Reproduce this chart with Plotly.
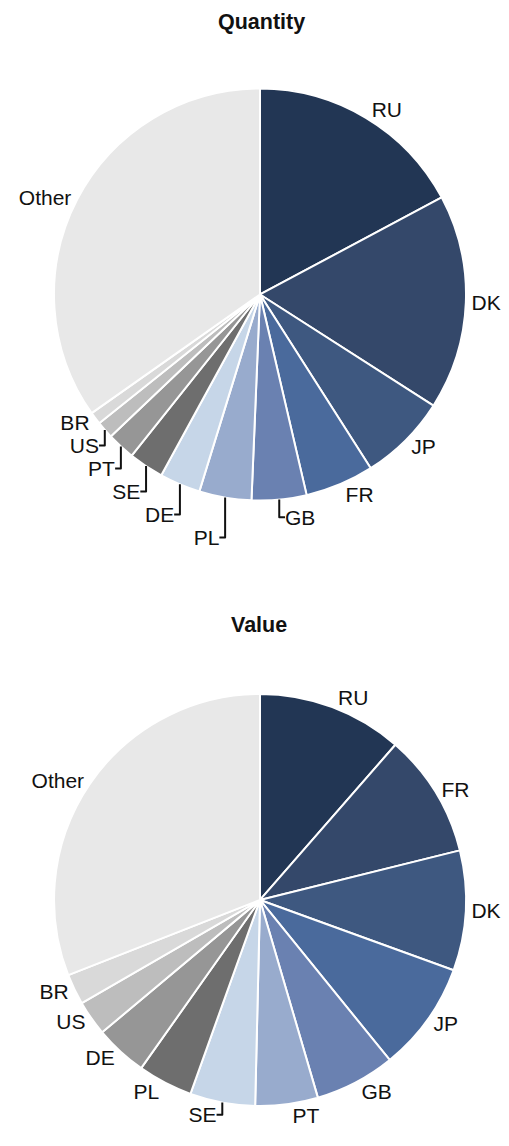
import plotly.graph_objects as go

# quantity shares (%)
qty_labels = ["RU", "DK", "JP", "FR", "GB", "PL", "DE", "SE", "PT", "US", "BR", "Other"]
qty_values = [17.2, 16.9, 6.9, 5.4, 4.3, 4.1, 3.2, 2.75, 2.2, 1.36, 0.97, 34.8]

# value shares (%)
val_labels = ["RU", "FR", "DK", "JP", "GB", "PT", "SE", "PL", "DE", "US", "BR", "Other"]
val_values = [11.4, 9.7, 9.4, 8.6, 6.3, 4.9, 5.1, 4.3, 4.1, 2.75, 2.4, 30.9]

# colours go by rank, not by country
palette = ["#223654", "#34486a", "#3e5880", "#4a6a9c", "#6a81b1", "#98abcd",
           "#c6d6e8", "#6e6e6e", "#969696", "#bdbdbd", "#d9d9d9", "#e8e8e8"]

font = "Liberation Sans, Arial, sans-serif"

# the page body keeps its 8px margin, so the figure is 8px smaller each way
W, H = 501, 1138

def pie(labels, values, ydom):
    return go.Pie(
        labels=labels, values=values, sort=False, direction="clockwise", rotation=0,
        marker=dict(colors=palette, line=dict(color="white", width=2)),
        textinfo="label", textposition="outside", showlegend=False,
        textfont=dict(family=font, size=21, color="#111"),
        hoverinfo="label+percent",
        domain=dict(x=[0.0918, 0.9142], y=ydom),
    )

fig = go.Figure()
fig.add_trace(pie(qty_labels, qty_values, [0.5668, 0.9297]))
fig.add_trace(pie(val_labels, val_values, [0.0352, 0.3972]))

for txt, x, y in [("Quantity", 0.505, 1.0), ("Value", 0.501, 0.4697)]:
    fig.add_annotation(text="<b>%s</b>" % txt, x=x, y=y, xref="paper", yref="paper",
                       xanchor="center", yanchor="top", showarrow=False,
                       font=dict(family=font, size=21.5, color="#111"))

fig.update_layout(width=W, height=H, margin=dict(l=0, r=0, t=0, b=0),
                  paper_bgcolor="white", plot_bgcolor="white")
fig.write_html("out.html")
